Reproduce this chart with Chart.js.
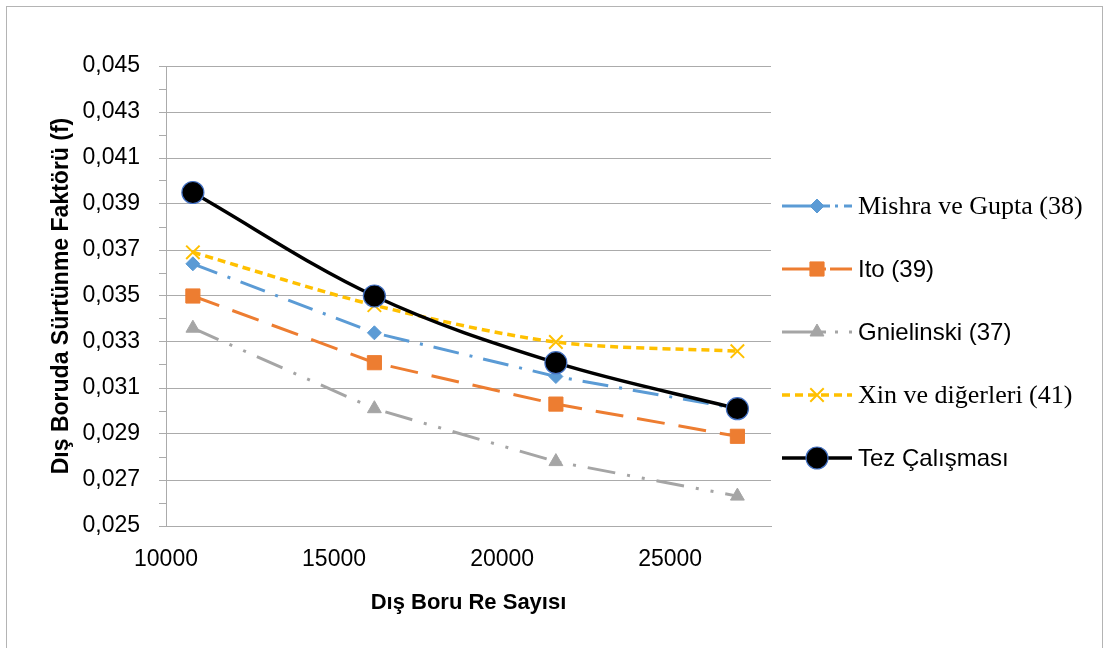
<!DOCTYPE html>
<html>
<head>
<meta charset="utf-8">
<script src="https://cdn.jsdelivr.net/npm/chart.js@4.4.1/dist/chart.umd.min.js"></script>
<style>
  html, body { margin: 0; padding: 0; background: #fff; }
  #wrap { position: relative; width: 1107px; height: 648px; overflow: hidden; }
  #frame { position: absolute; left: 6px; top: 6px; width: 1097px; height: 700px;
           border: 1px solid #b4b4b4; box-sizing: border-box; pointer-events: none; }
  canvas { position: absolute; left: 0; top: 0; }
</style>
</head>
<body>
<div id="wrap">
  <canvas id="chart" width="1107" height="648"></canvas>
  <div id="frame"></div>
</div>
<script>
// Re numbers (x) and friction factors per correlation
const reynolds = [10800, 16200, 21600, 27000];
const xTickValues = [10000, 15000, 20000, 25000];
const mishraGupta = [0.0364, 0.0334, 0.0315, 0.0301];
const ito = [0.0350, 0.0321, 0.0303, 0.0289];
const gnielinski = [0.0336, 0.0301, 0.0278, 0.0263];
const xinEtAl = [0.0369, 0.0346, 0.0330, 0.0326];
const tezCalismasi = [0.0395, 0.0350, 0.0321, 0.0301];

const seriesLabels = ['Mishra ve Gupta (38)', 'Ito (39)', 'Gnielinski (37)', 'Xin ve diğerleri (41)', 'Tez Çalışması'];
const xTitle = 'Dış Boru Re Sayısı';
const yTitle = 'Dış Boruda Sürtünme Faktörü (f)';

const sans = '"Liberation Sans", Arial, sans-serif';
const serif = '"Liberation Serif", "Times New Roman", serif';
const gridGray = '#ababab';

const pts = arr => reynolds.map((x, i) => ({ x: x, y: arr[i] }));

const datasets = [
  {
    label: seriesLabels[0], data: pts(mishraGupta), order: 5,
    borderColor: '#5B9BD5', borderWidth: 3, borderDash: [26, 11, 3, 11],
    pointStyle: 'rectRot', pointRadius: 7, pointBackgroundColor: '#5B9BD5',
    pointBorderColor: '#5B9BD5', pointBorderWidth: 1, tension: 0,
    legendFont: '26px ' + serif, legendDash: [48, 5, 3, 6, 12, 40]
  },
  {
    label: seriesLabels[1], data: pts(ito), order: 4,
    borderColor: '#ED7D31', borderWidth: 3, borderDash: [28, 14],
    pointStyle: 'rect', pointRadius: 10, pointBackgroundColor: '#ED7D31',
    pointBorderColor: '#ED7D31', pointBorderWidth: 1, tension: 0,
    legendFont: '24px ' + sans, legendDash: [44, 4, 30, 10]
  },
  {
    label: seriesLabels[2], data: pts(gnielinski), order: 3,
    borderColor: '#A5A5A5', borderWidth: 3, borderDash: [28, 12, 3, 12, 3, 12],
    pointStyle: 'triangle', pointRadius: 8, pointBackgroundColor: '#A5A5A5',
    pointBorderColor: '#A5A5A5', pointBorderWidth: 1, tension: 0,
    legendFont: '24px ' + sans, legendDash: [44, 9, 3, 11, 3, 40]
  },
  {
    label: seriesLabels[3], data: pts(xinEtAl), order: 2,
    borderColor: '#FFC000', borderWidth: 3.5, borderDash: [8, 5],
    pointStyle: 'crossRot', pointRadius: 9.5, pointBackgroundColor: '#FFC000',
    pointBorderColor: '#FFC000', pointBorderWidth: 2, tension: 0.3,
    legendFont: '26px ' + serif, legendDash: [8, 5]
  },
  {
    label: seriesLabels[4], data: pts(tezCalismasi), order: 1,
    borderColor: '#000000', borderWidth: 3.5, borderDash: [],
    pointStyle: 'circle', pointRadius: 11, pointBackgroundColor: '#000000',
    pointBorderColor: '#4472C4', pointBorderWidth: 1.2, tension: 0.35,
    legendFont: '24px ' + sans, legendDash: []
  }
];

// legend drawn on the right, one row per series
const sideLegend = {
  id: 'sideLegend',
  afterDraw(chart) {
    const ctx = chart.ctx;
    const x0 = 782, x1 = 852, textX = 858, top = 206, step = 63;
    chart.data.datasets.forEach((ds, i) => {
      const y = top + i * step;
      ctx.save();
      ctx.strokeStyle = ds.borderColor;
      ctx.lineWidth = ds.borderWidth;
      ctx.setLineDash(ds.legendDash || []);
      ctx.beginPath();
      ctx.moveTo(x0, y);
      ctx.lineTo(x1, y);
      ctx.stroke();
      ctx.setLineDash([]);
      ctx.fillStyle = ds.pointBackgroundColor;
      ctx.strokeStyle = ds.pointBorderColor;
      ctx.lineWidth = ds.pointBorderWidth;
      Chart.helpers.drawPoint(ctx, {
        pointStyle: ds.pointStyle, radius: ds.pointRadius,
        rotation: 0, borderWidth: ds.pointBorderWidth
      }, (x0 + x1) / 2, y);
      ctx.fillStyle = '#000';
      ctx.font = ds.legendFont;
      ctx.textAlign = 'left';
      ctx.textBaseline = 'middle';
      ctx.fillText(ds.label, textX, y + 1);
      ctx.restore();
    });
  }
};

new Chart(document.getElementById('chart'), {
  type: 'line',
  data: { datasets: datasets },
  plugins: [sideLegend],
  options: {
    responsive: false,
    animation: false,
    events: [],
    layout: { padding: { left: 0, right: 336, top: 66, bottom: 0 } },
    plugins: {
      legend: { display: false },
      tooltip: { enabled: false }
    },
    scales: {
      x: {
        type: 'linear',
        min: 10000,
        max: 28000,
        afterBuildTicks: s => { s.ticks = xTickValues.map(v => ({ value: v })); },
        ticks: {
          autoSkip: false,
          color: '#000',
          font: { family: sans, size: 23 },
          padding: 20,
          maxRotation: 0,
          callback: v => String(v)
        },
        grid: { display: false, drawTicks: false },
        border: { display: true, color: gridGray, width: 1 },
        title: {
          display: true, text: xTitle, color: '#000',
          font: { family: sans, size: 22, weight: 'bold' },
          padding: { top: 0, bottom: 32 }
        },
        afterFit: s => { s.height = 122; }
      },
      y: {
        type: 'linear',
        min: 0.025,
        max: 0.045,
        ticks: {
          stepSize: 0.001,
          autoSkip: false,
          color: '#000',
          font: { family: sans, size: 23 },
          padding: 19,
          callback: v => {
            const k = Math.round(v * 1000);
            return k % 2 === 1 ? (k / 1000).toFixed(3).replace('.', ',') : '';
          }
        },
        grid: {
          color: c => (Math.round(c.tick.value * 1000) % 2 === 1 ? gridGray : 'rgba(0,0,0,0)'),
          tickColor: gridGray,
          tickLength: 7,
          lineWidth: 1
        },
        border: { display: true, color: gridGray, width: 1 },
        title: {
          display: true, text: yTitle, color: '#000',
          font: { family: sans, size: 23, weight: 'bold' },
          padding: { top: 48, bottom: 0 }
        },
        afterFit: s => { s.width = 166; }
      }
    }
  }
});
</script>
</body>
</html>
